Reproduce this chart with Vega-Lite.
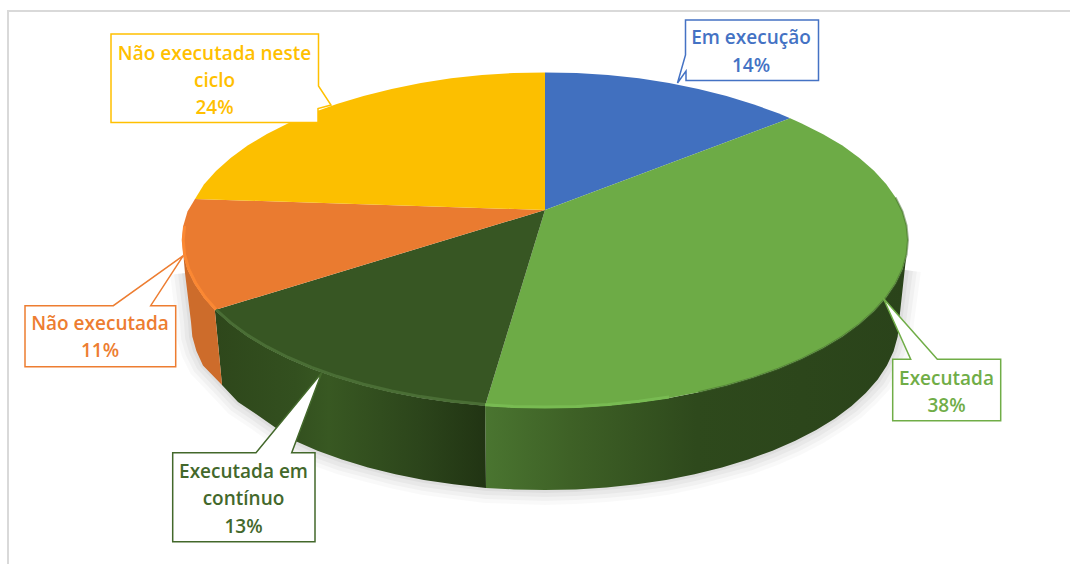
{"$schema":"https://vega.github.io/schema/vega-lite/v6.json","width":1070,"height":564,"padding":0,"autosize":{"type":"none"},"background":"white","view":{"stroke":null},
"datasets":{
"frame":[{"x":8,"y":564},{"x":8,"y":11},{"x":1070,"y":11}],
"contour":[{"x":185,"y":273},{"x":191,"y":322},{"x":192,"y":337},{"x":196,"y":351},{"x":203,"y":365},{"x":222,"y":385},{"x":238,"y":402},{"x":256,"y":414},{"x":276,"y":428},{"x":295,"y":441},{"x":317,"y":451},{"x":342,"y":460},{"x":368,"y":467},{"x":395,"y":474},{"x":424,"y":480},{"x":453,"y":484},{"x":486,"y":488},{"x":514,"y":489},{"x":545,"y":490},{"x":576,"y":489},{"x":606,"y":487},{"x":637,"y":484},{"x":666,"y":480},{"x":695,"y":474},{"x":722,"y":467},{"x":748,"y":460},{"x":772,"y":451},{"x":795,"y":441},{"x":816,"y":430},{"x":835,"y":418},{"x":852,"y":406},{"x":866,"y":393},{"x":878,"y":380},{"x":887,"y":365},{"x":894,"y":351},{"x":898,"y":337},{"x":899,"y":322},{"x":906,"y":270}],
"sideGreen":[{"x":908,"y":240},{"x":906.6,"y":254.6},{"x":902.5,"y":269.2},{"x":895.6,"y":283.5},{"x":886.1,"y":297.5},{"x":874,"y":311},{"x":859.4,"y":324},{"x":842.4,"y":336.4},{"x":823.1,"y":348},{"x":801.7,"y":358.8},{"x":778.3,"y":368.7},{"x":753.2,"y":377.6},{"x":726.5,"y":385.5},{"x":698.4,"y":392.3},{"x":669.1,"y":397.9},{"x":638.9,"y":402.3},{"x":608,"y":405.4},{"x":576.6,"y":407.4},{"x":545,"y":408},{"x":513.4,"y":407.4},{"x":485.1,"y":405.7},{"x":486,"y":488},{"x":514.1,"y":489.4},{"x":545,"y":490},{"x":575.9,"y":489.4},{"x":606.5,"y":487.4},{"x":636.6,"y":484.3},{"x":666.1,"y":479.9},{"x":694.6,"y":474.3},{"x":722,"y":467.5},{"x":748.1,"y":459.6},{"x":772.5,"y":450.7},{"x":795.3,"y":440.8},{"x":816.2,"y":430},{"x":835,"y":418.4},{"x":851.6,"y":406},{"x":865.8,"y":393},{"x":877.7,"y":379.5},{"x":886.9,"y":365.5},{"x":893.6,"y":351.2},{"x":897.7,"y":336.6},{"x":899,"y":322}],
"sideDark":[{"x":485.1,"y":405.7},{"x":451.1,"y":402.3},{"x":420.9,"y":397.9},{"x":391.6,"y":392.3},{"x":363.5,"y":385.5},{"x":336.8,"y":377.6},{"x":311.7,"y":368.7},{"x":288.3,"y":358.8},{"x":266.9,"y":348},{"x":247.6,"y":336.4},{"x":230.6,"y":324},{"x":214.8,"y":310},{"x":222,"y":385},{"x":238,"y":402},{"x":256,"y":414},{"x":276,"y":428},{"x":294.7,"y":440.8},{"x":317.5,"y":450.7},{"x":341.9,"y":459.6},{"x":368,"y":467.5},{"x":395.4,"y":474.3},{"x":423.9,"y":479.9},{"x":453.4,"y":484.3},{"x":486,"y":488}],
"sideOrange":[{"x":214.8,"y":310},{"x":203.9,"y":297.5},{"x":194.4,"y":283.5},{"x":187.5,"y":269.2},{"x":183.4,"y":254.6},{"x":182,"y":240},{"x":185,"y":273},{"x":191,"y":322},{"x":192.3,"y":336.6},{"x":196.4,"y":351},{"x":203,"y":365.5},{"x":222,"y":385}],
"top":[
{"s":"a","x":545,"y":210},{"s":"a","x":545,"y":72.4},{"s":"a","x":576.6,"y":73},{"s":"a","x":608,"y":75},{"s":"a","x":638.9,"y":78.2},{"s":"a","x":669.1,"y":83},{"s":"a","x":698.4,"y":89},{"s":"a","x":726.5,"y":96},{"s":"a","x":753.2,"y":104.2},{"s":"a","x":778.3,"y":113.3},{"s":"a","x":790.2,"y":118.3},
{"s":"b","x":545,"y":210},{"s":"b","x":790.2,"y":118.3},{"s":"b","x":801.7,"y":123.4},{"s":"b","x":823.1,"y":134.2},{"s":"b","x":842.4,"y":145.6},{"s":"b","x":859.4,"y":158},{"s":"b","x":874,"y":170.8},{"s":"b","x":886.1,"y":184},{"s":"b","x":895.6,"y":197.5},{"s":"b","x":902.5,"y":211.3},{"s":"b","x":906.6,"y":225.4},{"s":"b","x":908,"y":240},{"s":"b","x":906.6,"y":254.6},{"s":"b","x":902.5,"y":269.2},{"s":"b","x":895.6,"y":283.5},{"s":"b","x":886.1,"y":297.5},{"s":"b","x":874,"y":311},{"s":"b","x":859.4,"y":324},{"s":"b","x":842.4,"y":336.4},{"s":"b","x":823.1,"y":348},{"s":"b","x":801.7,"y":358.8},{"s":"b","x":778.3,"y":368.7},{"s":"b","x":753.2,"y":377.6},{"s":"b","x":726.5,"y":385.5},{"s":"b","x":698.4,"y":392.3},{"s":"b","x":669.1,"y":397.9},{"s":"b","x":638.9,"y":402.3},{"s":"b","x":608,"y":405.4},{"s":"b","x":576.6,"y":407.4},{"s":"b","x":545,"y":408},{"s":"b","x":513.4,"y":407.4},{"s":"b","x":485.1,"y":405.7},
{"s":"c","x":545,"y":210},{"s":"c","x":485.1,"y":405.7},{"s":"c","x":451.1,"y":402.3},{"s":"c","x":420.9,"y":397.9},{"s":"c","x":391.6,"y":392.3},{"s":"c","x":363.5,"y":385.5},{"s":"c","x":336.8,"y":377.6},{"s":"c","x":311.7,"y":368.7},{"s":"c","x":288.3,"y":358.8},{"s":"c","x":266.9,"y":348},{"s":"c","x":247.6,"y":336.4},{"s":"c","x":230.6,"y":324},{"s":"c","x":214.8,"y":310},
{"s":"d","x":545,"y":210},{"s":"d","x":214.8,"y":310},{"s":"d","x":203.9,"y":297.5},{"s":"d","x":194.4,"y":283.5},{"s":"d","x":187.5,"y":269.2},{"s":"d","x":183.4,"y":254.6},{"s":"d","x":182,"y":240},{"s":"d","x":183.4,"y":225.4},{"s":"d","x":187.5,"y":211.5},{"s":"d","x":195,"y":199},
{"s":"e","x":545,"y":210},{"s":"e","x":195,"y":199},{"s":"e","x":203.9,"y":184.5},{"s":"e","x":216,"y":171},{"s":"e","x":230.6,"y":158},{"s":"e","x":247.6,"y":145.6},{"s":"e","x":266.9,"y":134},{"s":"e","x":288.3,"y":123.2},{"s":"e","x":311.7,"y":113.1},{"s":"e","x":336.8,"y":104},{"s":"e","x":363.5,"y":96},{"s":"e","x":391.6,"y":89},{"s":"e","x":420.9,"y":83},{"s":"e","x":451.1,"y":78.3},{"s":"e","x":482,"y":75},{"s":"e","x":513.4,"y":73},{"s":"e","x":545,"y":72.4}],
"rim":[
{"s":"c","x":485.1,"y":404.5},{"s":"c","x":451.1,"y":401},{"s":"c","x":420.9,"y":396.6},{"s":"c","x":391.6,"y":391},{"s":"c","x":363.5,"y":384.2},{"s":"c","x":336.8,"y":376.3},{"s":"c","x":311.7,"y":367.4},{"s":"c","x":288.3,"y":357.5},{"s":"c","x":266.9,"y":346.7},{"s":"c","x":247.6,"y":335.1},{"s":"c","x":230.6,"y":322.7},{"s":"c","x":216,"y":309.5},
{"s":"d","x":216,"y":309.5},{"s":"d","x":205,"y":297},{"s":"d","x":195.6,"y":283},{"s":"d","x":188.7,"y":269},{"s":"d","x":184.6,"y":254.6},{"s":"d","x":183.2,"y":240},{"s":"d","x":184.6,"y":226},
{"s":"b","x":669.1,"y":396.9},{"s":"b","x":638.9,"y":401.3},{"s":"b","x":608,"y":404.4},{"s":"b","x":576.6,"y":406.4},{"s":"b","x":545,"y":407},{"s":"b","x":513.4,"y":406.4},{"s":"b","x":485.1,"y":404.7}],
"edge":[{"x":895.6,"y":197.5},{"x":902.5,"y":211.3},{"x":906.6,"y":225.4},{"x":908,"y":240},{"x":906.6,"y":254.6},{"x":902.5,"y":269.2},{"x":895.6,"y":283.5},{"x":886.1,"y":297.5},{"x":874,"y":311},{"x":859.4,"y":324},{"x":842.4,"y":336.4},{"x":823.1,"y":348},{"x":801.7,"y":358.8},{"x":778.3,"y":368.7},{"x":753.2,"y":377.6},{"x":726.5,"y":385.5},{"x":698.4,"y":392.3}],
"callouts":[
{"s":"e","x":111,"y":34},{"s":"e","x":318.5,"y":34},{"s":"e","x":318.5,"y":86},{"s":"e","x":331,"y":105},{"s":"e","x":318,"y":108.5},{"s":"e","x":318,"y":122.5},{"s":"e","x":111,"y":122.5},
{"s":"a","x":685.5,"y":20},{"s":"a","x":818.5,"y":20},{"s":"a","x":818.5,"y":80.5},{"s":"a","x":686,"y":80.5},{"s":"a","x":686,"y":71},{"s":"a","x":677.5,"y":83},{"s":"a","x":685.5,"y":55},
{"s":"d","x":25,"y":305.7},{"s":"d","x":113.3,"y":305.7},{"s":"d","x":183.3,"y":255.7},{"s":"d","x":150.7,"y":305.7},{"s":"d","x":175.7,"y":305.7},{"s":"d","x":175.7,"y":366.7},{"s":"d","x":25,"y":366.7},
{"s":"c","x":172.7,"y":452.7},{"s":"c","x":256,"y":452.7},{"s":"c","x":321.7,"y":372.7},{"s":"c","x":291.7,"y":452.7},{"s":"c","x":315,"y":452.7},{"s":"c","x":315,"y":541.7},{"s":"c","x":172.7,"y":541.7},
{"s":"b","x":892.7,"y":359.3},{"s":"b","x":910.7,"y":359.3},{"s":"b","x":883.3,"y":298.3},{"s":"b","x":937.3,"y":359.3},{"s":"b","x":1000.7,"y":359.3},{"s":"b","x":1000.7,"y":420.7},{"s":"b","x":892.7,"y":420.7}],
"labels":[
{"s":"e","t":"Não executada neste","x":214.5,"y":53},{"s":"e","t":"ciclo","x":214.5,"y":80},{"s":"e","t":"24%","x":214.5,"y":107},
{"s":"a","t":"Em execução","x":751,"y":37},{"s":"a","t":"14%","x":751,"y":65},
{"s":"d","t":"Não executada","x":100,"y":323},{"s":"d","t":"11%","x":100,"y":350},
{"s":"c","t":"Executada em","x":243.5,"y":471},{"s":"c","t":"contínuo","x":243.5,"y":498},{"s":"c","t":"13%","x":243.5,"y":526},
{"s":"b","t":"Executada","x":946.5,"y":378},{"s":"b","t":"38%","x":946.5,"y":405}]
},
"encoding":{"x":{"field":"x","type":"quantitative","axis":null,"scale":{"domain":[0,1070],"nice":false,"zero":false}},"y":{"field":"y","type":"quantitative","axis":null,"scale":{"domain":[564,0],"nice":false,"zero":false}},"order":{"value":null}},
"resolve":{"scale":{"stroke":"independent"}},
"layer":[
{"data":{"name":"frame"},"mark":{"type":"line","stroke":"#d9d9d9","strokeWidth":2}},
{"data":{"name":"contour"},"mark":{"type":"line","stroke":"#000","strokeOpacity":0.025,"strokeWidth":30}},
{"data":{"name":"contour"},"mark":{"type":"line","stroke":"#000","strokeOpacity":0.03,"strokeWidth":22}},
{"data":{"name":"contour"},"mark":{"type":"line","stroke":"#000","strokeOpacity":0.035,"strokeWidth":14}},
{"data":{"name":"contour"},"mark":{"type":"line","stroke":"#000","strokeOpacity":0.04,"strokeWidth":6}},
{"data":{"name":"sideGreen"},"mark":{"type":"line","interpolate":"linear-closed","strokeWidth":0,"fill":{"gradient":"linear","x1":0,"y1":0,"x2":1,"y2":0,"stops":[{"offset":0,"color":"#4a7530"},{"offset":0.2,"color":"#3e6126"},{"offset":0.5,"color":"#2e491c"},{"offset":1,"color":"#2a431a"}]}}},
{"data":{"name":"sideDark"},"mark":{"type":"line","interpolate":"linear-closed","strokeWidth":0,"fill":{"gradient":"linear","x1":0,"y1":0,"x2":1,"y2":0,"stops":[{"offset":0,"color":"#2e471b"},{"offset":0.3,"color":"#33501f"},{"offset":0.42,"color":"#385822"},{"offset":0.75,"color":"#2c451b"},{"offset":1,"color":"#213413"}]}}},
{"data":{"name":"sideOrange"},"mark":{"type":"line","interpolate":"linear-closed","strokeWidth":0,"fill":"#cd6c2b"}},
{"data":{"name":"top"},"mark":{"type":"line","interpolate":"linear-closed","strokeWidth":0},"encoding":{"fill":{"field":"s","type":"nominal","legend":null,"scale":{"domain":["a","b","c","d","e"],"range":["#4170bf","#6dab46","#375623","#ea7b30","#fcbf00"]}}}},
{"data":{"name":"edge"},"mark":{"type":"line","stroke":"#3f6a28","strokeOpacity":0.5,"strokeWidth":2}},
{"data":{"name":"rim"},"mark":{"type":"line","strokeWidth":3},"encoding":{"stroke":{"field":"s","type":"nominal","legend":null,"scale":{"domain":["b","c","d"],"range":["#78bb52","#4a6e35","#fb8833"]}}}},
{"data":{"name":"callouts"},"mark":{"type":"line","interpolate":"linear-closed","fill":"white","strokeWidth":1.5},"encoding":{"stroke":{"field":"s","type":"nominal","legend":null,"scale":{"domain":["a","b","c","d","e"],"range":["#4472c4","#70ad47","#43682b","#ed7d31","#ffc000"]}}}},
{"data":{"name":"labels"},"mark":{"type":"text","font":"Open Sans","fontWeight":600,"fontSize":19,"dy":1,"align":"center","baseline":"middle"},"encoding":{"text":{"field":"t","type":"nominal"},"color":{"field":"s","type":"nominal","legend":null,"scale":{"domain":["a","b","c","d","e"],"range":["#4472c4","#70ad47","#43682b","#ed7d31","#ffc000"]}}}}
]}
